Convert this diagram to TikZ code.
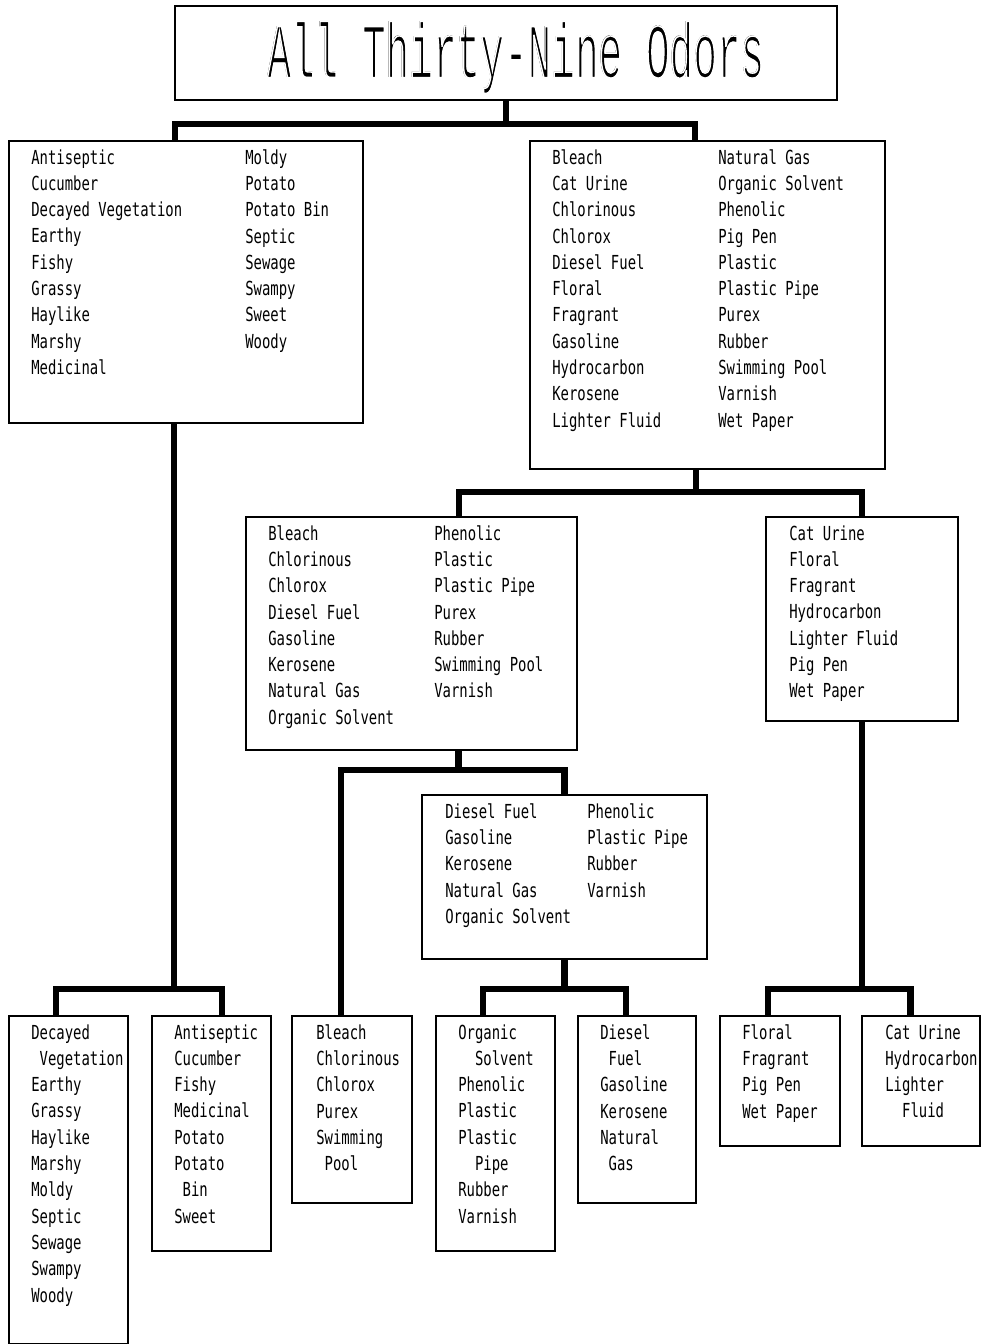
\documentclass[tikz,border=0pt]{standalone}
\usepackage{fontspec}
\newfontfamily\odorfont[FakeStretch=0.72]{DejaVu Sans Mono}
\newfontfamily\titlefont[FakeStretch=0.51]{Liberation Mono}
\usetikzlibrary{positioning}

% white outline over the title, so that its strokes look thin
\newcommand\thinpen[1]{\special{pdf:literal 1 Tr 0.8 w}#1\special{pdf:literal 0 Tr}}

\tikzset{
  box/.style={draw, line width=1.1pt, anchor=north west, inner sep=0pt},
  boxwh/.style 2 args={minimum width=#1cm, minimum height=#2cm},
  odors/.style={anchor=north west, align=left, inner sep=0pt,
    font=\odorfont\fontsize{11}{14.97}\selectfont},
  titletext/.style={font=\titlefont\fontsize{44}{44}\selectfont,
    text height=29pt, text depth=0pt, inner sep=0pt},
  link/.style={line width=0.13cm, line join=miter}
}

\begin{document}
\begin{tikzpicture}[x=0.02cm, y=-0.02cm]
    \useasboundingbox (0,0) rectangle (981,1344);

    \node[box,boxwh={13.24}{1.88}] (T) at (174,5) {};
    \node[titletext] (ttl) at (516,52) {All Thirty-Nine Odors};
    \node[titletext, text=white] (ttlw) at (ttl) {\thinpen{All Thirty-Nine Odors}};

    \node[box,boxwh={7.08}{5.64}] (L1) at (8,140) {};
    \node[box,boxwh={7.10}{6.56}] (R1) at (529,140) {};
    \node[box,boxwh={6.62}{4.66}] (R2a) at (245,516) {};
    \node[box,boxwh={3.84}{4.08}] (R2b) at (765,516) {};
    \node[box,boxwh={5.70}{3.28}] (R3) at (421,794) {};
    \node[box,boxwh={2.38}{6.56}] (D) at (8,1015) {};
    \node[box,boxwh={2.38}{4.70}] (A) at (151,1015) {};
    \node[box,boxwh={2.40}{3.74}] (B) at (291,1015) {};
    \node[box,boxwh={2.38}{4.70}] (O) at (435,1015) {};
    \node[box,boxwh={2.36}{3.74}] (Di) at (577,1015) {};
    \node[box,boxwh={2.40}{2.60}] (F) at (719,1015) {};
    \node[box,boxwh={2.36}{2.60}] (C) at (861,1015) {};

    \node[odors] (L1a) at (31,149) {Antiseptic\\Cucumber\\Decayed Vegetation\\Earthy\\Fishy\\Grassy\\Haylike\\Marshy\\Medicinal};
    \node[odors] (L1b) at (245,149) {Moldy\\Potato\\Potato Bin\\Septic\\Sewage\\Swampy\\Sweet\\Woody};
    \node[odors] (R1a) at (552,149) {Bleach\\Cat Urine\\Chlorinous\\Chlorox\\Diesel Fuel\\Floral\\Fragrant\\Gasoline\\Hydrocarbon\\Kerosene\\Lighter Fluid};
    \node[odors] (R1b) at (718,149) {Natural Gas\\Organic Solvent\\Phenolic\\Pig Pen\\Plastic\\Plastic Pipe\\Purex\\Rubber\\Swimming Pool\\Varnish\\Wet Paper};
    \node[odors] (R2aa) at (268,525) {Bleach\\Chlorinous\\Chlorox\\Diesel Fuel\\Gasoline\\Kerosene\\Natural Gas\\Organic Solvent};
    \node[odors] (R2ab) at (434,525) {Phenolic\\Plastic\\Plastic Pipe\\Purex\\Rubber\\Swimming Pool\\Varnish};
    \node[odors] (R2bl) at (789,525) {Cat Urine\\Floral\\Fragrant\\Hydrocarbon\\Lighter Fluid\\Pig Pen\\Wet Paper};
    \node[odors] (R3a) at (445,803) {Diesel Fuel\\Gasoline\\Kerosene\\Natural Gas\\Organic Solvent};
    \node[odors] (R3b) at (587,803) {Phenolic\\Plastic Pipe\\Rubber\\Varnish};
    \node[odors] (Dl) at (31,1024) {Decayed\\\ Vegetation\\Earthy\\Grassy\\Haylike\\Marshy\\Moldy\\Septic\\Sewage\\Swampy\\Woody};
    \node[odors] (Al) at (174,1024) {Antiseptic\\Cucumber\\Fishy\\Medicinal\\Potato\\Potato\\\ Bin\\Sweet};
    \node[odors] (Bl) at (316,1024) {Bleach\\Chlorinous\\Chlorox\\Purex\\Swimming\\\ Pool};
    \node[odors] (Ol) at (458,1024) {Organic\\\ \ Solvent\\Phenolic\\Plastic\\Plastic\\\ \ Pipe\\Rubber\\Varnish};
    \node[odors] (Dil) at (600,1024) {Diesel\\\ Fuel\\Gasoline\\Kerosene\\Natural\\\ Gas};
    \node[odors] (Fl) at (742,1024) {Floral\\Fragrant\\Pig Pen\\Wet Paper};
    \node[odors] (Cl) at (885,1024) {Cat Urine\\Hydrocarbon\\Lighter\\\ \ Fluid};

    \draw[link] (T.south) -- ++(0,23) -| ([xshift=-0.22cm]L1.north);
    \draw[link] (T.south) -- ++(0,23) -| ([xshift=-0.25cm]R1.north);
    \draw[link] ([xshift=-0.23cm]R1.south) -- ++(0,22) -| ([xshift=0.95cm]R2a.north);
    \draw[link] ([xshift=-0.23cm]R1.south) -- ++(0,22) -| (R2b.north);
    \draw[link] ([xshift=0.94cm]R2a.south) -- ++(0,19) -| ([xshift=-0.22cm]B.north);
    \draw[link] ([xshift=0.94cm]R2a.south) -- ++(0,19) -| (R3.north);
    \draw[link] (R3.south) -- ++(0,29) -| ([xshift=-0.25cm]O.north);
    \draw[link] (R3.south) -- ++(0,29) -| ([xshift=-0.22cm]Di.north);
    \draw[link] (R2b.south) -- ++(0,267) -| ([xshift=-0.24cm]F.north);
    \draw[link] (R2b.south) -- ++(0,267) -| ([xshift=-0.21cm]C.north);
    \draw[link] ([xshift=-0.24cm]L1.south) -- ++(0,565) -| ([xshift=-0.25cm]D.north);
    \draw[link] ([xshift=-0.24cm]L1.south) -- ++(0,565) -| ([xshift=0.21cm]A.north);
\end{tikzpicture}
\end{document}
